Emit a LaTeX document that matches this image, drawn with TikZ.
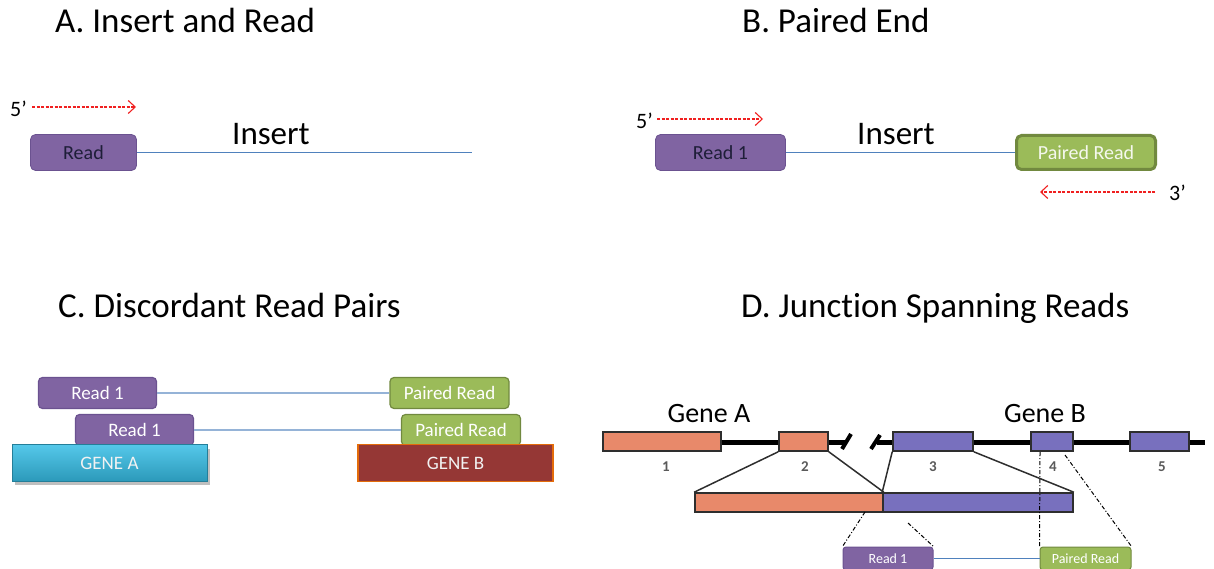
\documentclass[tikz,border=0pt]{standalone}
\usepackage{fontspec}
\setmainfont{Carlito}[Ligatures=NoCommon]
\usetikzlibrary{arrows.meta}

\definecolor{rdpurple}{HTML}{8064A2}
\definecolor{rdpurpleline}{HTML}{6B5290}
\definecolor{rdgreen}{HTML}{9BBB59}
\definecolor{rdgreenline}{HTML}{71893F}
\definecolor{inkdark}{HTML}{1E1E38}
\definecolor{insblue}{HTML}{4F81BD}
\definecolor{lightblue}{HTML}{95B3D7}
\definecolor{genecyan}{HTML}{33B4DA}
\definecolor{genecyantop}{HTML}{55C8EA}
\definecolor{generust}{HTML}{953735}
\definecolor{geneorange}{HTML}{E46C0A}
\definecolor{exonorange}{HTML}{E8896A}
\definecolor{exonpurple}{HTML}{7870BE}
\definecolor{exonline}{HTML}{2E2E2E}
\definecolor{numgray}{HTML}{5A5A5A}
\definecolor{strandred}{HTML}{F02020}

\begin{document}
\begin{tikzpicture}[x=1pt,y=-1pt,
  title/.style={anchor=base west,inner sep=0pt,font=\fontsize{35}{40}\selectfont},
  instext/.style={anchor=base west,inner sep=0pt,font=\fontsize{33}{38}\selectfont},
  primetext/.style={anchor=base west,inner sep=0pt,font=\fontsize{22}{26}\selectfont},
  redarrow/.style={strandred,line width=1.1pt,dash pattern=on 3pt off 1.5pt,
    -{Straight Barb[length=7pt,width=13pt,line width=1.1pt]}},
  insline/.style={insblue,line width=1pt},
  readbig/.style={rectangle,rounded corners=5pt,fill=rdpurple,draw=rdpurpleline,line width=0.8pt,
    text=inkdark,font=\fontsize{20}{24}\selectfont,inner sep=0pt,minimum height=36pt},
  pairbig/.style={rectangle,rounded corners=5pt,fill=rdgreen,draw=rdgreenline,line width=3pt,
    text=white!90!rdgreen,font=\fontsize{20}{24}\selectfont,inner sep=0pt,minimum height=34pt},
  readmid/.style={rectangle,rounded corners=4pt,fill=rdpurple,draw=rdpurpleline,line width=1.2pt,
    text=white,font=\fontsize{19}{22}\selectfont,inner sep=0pt,minimum width=118pt,minimum height=31pt},
  pairmid/.style={rectangle,rounded corners=4pt,fill=rdgreen,draw=rdgreenline,line width=1.2pt,
    text=white,font=\fontsize{19}{22}\selectfont,inner sep=0pt,minimum width=119pt,minimum height=31pt},
  genebox/.style={rectangle,inner sep=0pt,minimum width=195pt,minimum height=37pt,
    text=white!95!black,font=\fontsize{19}{22}\selectfont},
  pairlink/.style={lightblue,line width=1.4pt},
  exon/.style={rectangle,draw=exonline,line width=1.6pt,inner sep=0pt,minimum height=19pt},
  genelabel/.style={font=\fontsize{28}{32}\selectfont,inner sep=0pt},
  exnum/.style={font=\bfseries\fontsize{15}{17}\selectfont,text=numgray,inner sep=0pt},
  fanline/.style={exonline,line width=1.5pt},
  dashdot/.style={black,line width=1pt,dash pattern=on 4pt off 2pt on 1pt off 2pt},
  readsmall/.style={rectangle,rounded corners=3pt,fill=rdpurple,draw=rdpurpleline,line width=1pt,
    text=white,font=\fontsize{14}{16}\selectfont,inner sep=0pt,minimum width=90pt,minimum height=23pt},
  pairsmall/.style={rectangle,rounded corners=3pt,fill=rdgreen,draw=rdgreenline,line width=1pt,
    text=white,font=\fontsize{14}{16}\selectfont,inner sep=0pt,minimum width=91pt,minimum height=23pt},
  backbone/.style={black,line width=5pt}
]
\useasboundingbox (0,0) rectangle (1214,569);

% ---------- titles ----------
\node[title] (tA) at (55,33) {A. Insert and Read};
\node[title] (tB) at (742,33) {B. Paired End};
\node[title] (tC) at (58,317) {C. Discordant Read Pairs};
\node[title] (tD) at (741,317) {D. Junction Spanning Reads};

% ---------- A: insert and read ----------
\node[readbig,minimum width=106pt] (readA) at (83.5,152.5) {Read};
\coordinate (insAend) at (472,152.5);
\draw[insline] (readA.east) -- (insAend);
\node[instext] (insA) at (232,145) {Insert};
\node[primetext] (fiveA) at (10,117) {5’};
\coordinate (arrAs) at (32,107);
\coordinate (arrAe) at (136,107);
\draw[redarrow] (arrAs) -- (arrAe);

% ---------- B: paired end ----------
\node[readbig,minimum width=130pt] (readB) at (720.5,152.5) {Read 1};
\node[pairbig,minimum width=139pt] (pairB) at (1086,152.5) {Paired Read};
\draw[insline] (readB.east) -- (pairB.west);
\node[instext] (insB) at (857,145) {Insert};
\node[primetext] (fiveB) at (636,129) {5’};
\coordinate (arrBs) at (657,119);
\coordinate (arrBe) at (763,119);
\draw[redarrow] (arrBs) -- (arrBe);
\node[primetext] (threeB) at (1169,201) {3’};
\coordinate (arrCs) at (1155,192);
\coordinate (arrCe) at (1040,192);
\draw[redarrow] (arrCs) -- (arrCe);

% ---------- C: discordant read pairs ----------
\node[readmid] (readC1) at (97.5,393) {Read 1};
\node[pairmid] (pairC1) at (449.5,393) {Paired Read};
\draw[pairlink] (readC1.east) -- (pairC1.west);
\node[readmid] (readC2) at (134.5,430) {Read 1};
\node[pairmid] (pairC2) at (461,430) {Paired Read};
\draw[pairlink] (readC2.east) -- (pairC2.west);
\fill[black!25] (15,449) rectangle (210,485);
\node[genebox,top color=genecyantop,bottom color=genecyan!85!black,draw=genecyan!70!black,line width=0.6pt]
  (geneA) at (109.5,463) {GENE A};
\node[genebox,fill=generust,draw=geneorange,line width=1.6pt] (geneB) at (455.5,463) {GENE B};

% ---------- D: junction spanning reads ----------
\draw[backbone] (603,442) -- (846,442);
\draw[black,line width=4pt] (842,449) -- (851,434);
\draw[backbone] (877,442) -- (1205,442);
\draw[black,line width=4pt] (871,449) -- (880,435);

\node[exon,fill=exonorange,minimum width=118pt] (ex1) at (662,441.5) {};
\node[exon,fill=exonorange,minimum width=49pt] (ex2) at (803.5,441.5) {};
\node[exon,fill=exonpurple,minimum width=80pt] (ex3) at (933,441.5) {};
\node[exon,fill=exonpurple,minimum width=42pt] (ex4) at (1052,441.5) {};
\node[exon,fill=exonpurple,minimum width=59pt] (ex5) at (1159.5,441.5) {};

\node[genelabel] (gA) at (709,414) {Gene A};
\node[genelabel] (gB) at (1045,414) {Gene B};

\node[exnum] (n1) at (666,467) {1};
\node[exnum] (n2) at (805,467) {2};
\node[exnum] (n3) at (933,467) {3};
\node[exnum] (n4) at (1053,467) {4};
\node[exnum] (n5) at (1162,467) {5};

\node[exon,fill=exonorange,minimum width=188pt] (barA) at (789,502.5) {};
\node[exon,fill=exonpurple,minimum width=190pt] (barB) at (978,502.5) {};

\draw[fanline] (ex2.south west) -- (barA.north west);
\draw[fanline] (ex2.south east) -- (barA.north east);
\draw[fanline] (ex3.south west) -- (barB.north west);
\draw[fanline] (ex3.south east) -- (barB.north east);

\node[readsmall] (readD) at (888,558.5) {Read 1};
\node[pairsmall] (pairD) at (1085.5,558.5) {Paired Read};
\draw[insblue,line width=1.4pt] (readD.east) -- (pairD.west);

\coordinate (spanA) at (865,512);
\coordinate (spanB) at (908,523);
\coordinate (spanC) at (1040,452);
\coordinate (spanD) at (1065,455);
\draw[dashdot] (spanA) -- (readD.north west);
\draw[dashdot] (spanB) -- (readD.north east);
\draw[dashdot] (spanC) -- (pairD.north west);
\draw[dashdot] (spanD) -- (pairD.north east);
\end{tikzpicture}
\end{document}
